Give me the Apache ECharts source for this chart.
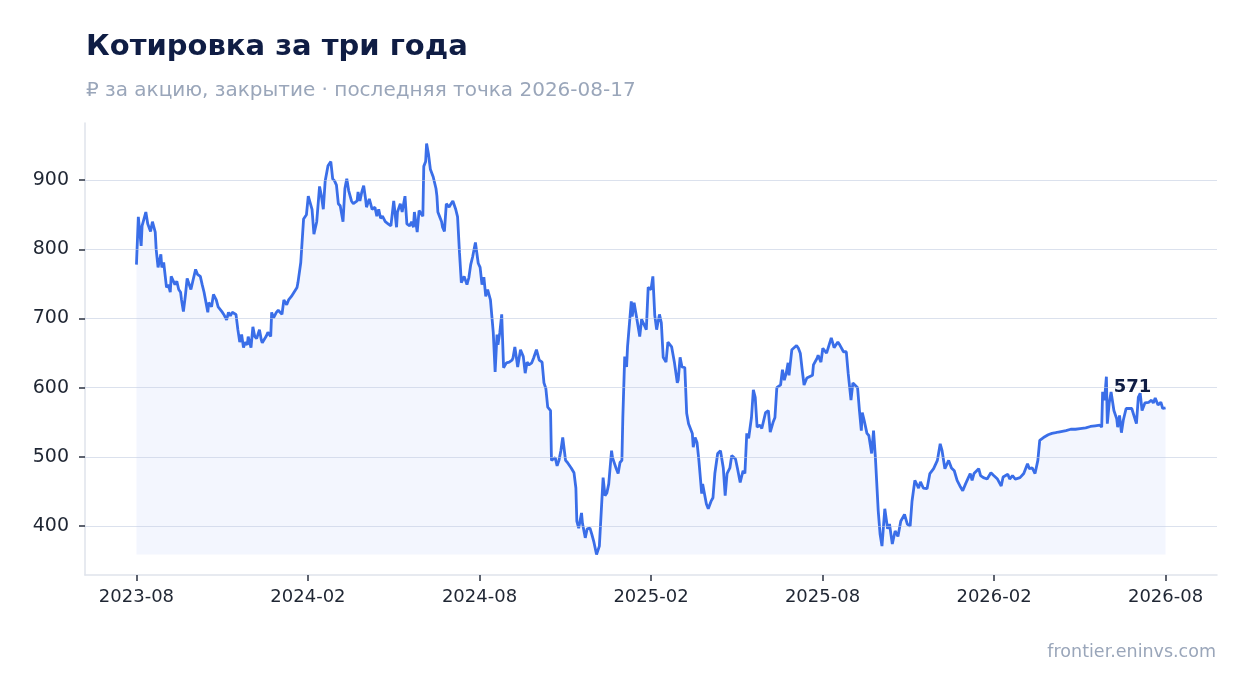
<!DOCTYPE html>
<html>
<head>
<meta charset="utf-8">
<script src="https://cdn.jsdelivr.net/npm/echarts@6/dist/echarts.min.js"></script>
<style>
  html, body { margin: 0; padding: 0; background: #fff; }
  #chart { width: 1247px; height: 693px; }
</style>
</head>
<body>
<div id="chart"></div>
<script>
// days since 2023-08-17 and the closing price on that day
var dayOffsets = [
  0, 2, 5, 6, 10, 12, 15, 17, 20, 21, 23, 26, 27, 29, 32, 34, 36, 37, 41, 43,
  45, 47, 48, 50, 52, 54, 58, 60, 63, 65, 68, 70, 72, 76, 77, 80, 82, 85, 87, 91,
  93, 96, 98, 100, 102, 106, 108, 110, 112, 114, 116, 118, 119, 122, 124, 126, 128, 131, 133, 134,
  138, 140, 143, 144, 146, 149, 151, 155, 157, 160, 162, 165, 167, 171, 172, 175, 176, 178, 181, 183,
  187, 189, 192, 193, 195, 197, 199, 201, 204, 207, 209, 211, 213, 215, 217, 220, 222, 224, 226, 229,
  231, 235, 236, 238, 240, 242, 244, 245, 248, 251, 254, 256, 258, 260, 262, 265, 268, 271, 273, 274,
  277, 278, 281, 283, 286, 288, 291, 293, 295, 296, 299, 301, 303, 305, 306, 308, 309, 311, 313, 316,
  319, 320, 321, 323, 325, 326, 328, 330, 333, 335, 337, 340, 342, 344, 346, 349, 352, 354, 356, 358,
  361, 364, 366, 368, 370, 372, 374, 377, 380, 382, 384, 385, 387, 389, 391, 394, 397, 400, 401, 403,
  405, 406, 409, 412, 414, 416, 418, 421, 423, 426, 429, 432, 434, 436, 438, 441, 442, 446, 448, 450,
  452, 454, 457, 459, 463, 466, 468, 469, 471, 474, 475, 478, 480, 483, 485, 487, 490, 493, 495, 497,
  499, 501, 503, 506, 507, 511, 513, 515, 517, 518, 520, 522, 523, 527, 528, 530, 533, 536, 538, 543,
  545, 548, 550, 552, 554, 557, 559, 561, 564, 566, 570, 573, 576, 577, 579, 581, 584, 586, 588, 592,
  593, 595, 597, 599, 602, 603, 607, 609, 612, 614, 616, 619, 622, 625, 627, 629, 632, 634, 638, 640,
  643, 646, 648, 650, 652, 655, 657, 659, 661, 664, 666, 670, 672, 673, 675, 678, 680, 682, 686, 688,
  690, 692, 694, 695, 698, 700, 703, 705, 707, 709, 711, 714, 716, 720, 721, 725, 726, 729, 731, 735,
  737, 740, 743, 747, 749, 753, 756, 758, 761, 763, 768, 770, 772, 773, 775, 778, 780, 783, 785, 787,
  790, 792, 794, 797, 800, 802, 805, 808, 811, 814, 818, 821, 824, 826, 829, 833, 835, 838, 842, 845,
  849, 853, 856, 858, 861, 865, 868, 871, 874, 877, 880, 883, 886, 888, 890, 892, 897, 899, 902, 906,
  910, 913, 917, 921, 923, 928, 930, 933, 936, 941, 945, 949, 951, 954, 957, 960, 962, 966, 968, 971,
  975, 979, 982, 986, 990, 995, 1000, 1005, 1011, 1016, 1021, 1026, 1028, 1029, 1031, 1033, 1034, 1036, 1038, 1041,
  1044, 1045, 1047, 1049, 1051, 1054, 1056, 1060, 1062, 1065, 1067, 1069, 1071, 1074, 1078, 1081, 1083, 1085, 1088, 1091,
  1093, 1096
];
var closePrices = [
  778, 847, 805, 834, 854, 837, 826, 840, 825, 800, 774, 793, 774, 781, 745, 749, 738, 761, 749, 754,
  742, 738, 727, 710, 732, 758, 742, 754, 771, 764, 761, 749, 738, 709, 723, 717, 735, 727, 717, 710,
  706, 698, 709, 704, 709, 706, 684, 666, 677, 658, 666, 662, 674, 658, 688, 674, 671, 684, 669, 665,
  674, 680, 674, 709, 701, 709, 712, 706, 727, 720, 727, 732, 733, 745, 752, 781, 783, 844, 850, 877,
  858, 822, 840, 841, 891, 877, 858, 899, 921, 927, 902, 899, 893, 866, 863, 840, 888, 902, 885, 870,
  866, 870, 883, 870, 883, 892, 873, 861, 873, 858, 861, 848, 858, 845, 848, 840, 837, 834, 834, 870,
  832, 854, 866, 854, 877, 837, 834, 840, 832, 854, 825, 856, 858, 848, 920, 927, 953, 938, 916, 905,
  888, 877, 854, 847, 840, 832, 826, 866, 861, 866, 870, 858, 847, 796, 752, 761, 749, 759, 778, 789,
  810, 780, 774, 749, 760, 732, 742, 727, 680, 623, 677, 662, 680, 706, 629, 636, 637, 640, 643, 659,
  640, 630, 655, 645, 621, 637, 633, 636, 643, 655, 640, 637, 607, 599, 572, 567, 495, 499, 487, 495,
  509, 528, 495, 492, 484, 477, 455, 407, 397, 419, 404, 383, 396, 397, 388, 378, 359, 371, 371, 470,
  444, 448, 461, 509, 499, 483, 476, 492, 495, 557, 645, 630, 659, 725, 703, 723, 699, 674, 699, 684,
  745, 742, 761, 705, 684, 706, 694, 644, 637, 666, 659, 636, 607, 611, 644, 630, 629, 563, 548, 534,
  514, 528, 521, 495, 447, 461, 432, 425, 436, 441, 476, 505, 509, 484, 444, 476, 484, 502, 497, 484,
  463, 480, 476, 534, 527, 557, 597, 586, 543, 546, 541, 564, 564, 567, 536, 550, 557, 600, 604, 626,
  611, 621, 636, 618, 655, 656, 661, 657, 650, 626, 604, 614, 612, 618, 633, 643, 647, 637, 657, 650,
  652, 672, 658, 666, 662, 652, 652, 621, 582, 607, 600, 567, 538, 564, 553, 534, 531, 505, 538, 499,
  422, 388, 371, 425, 396, 403, 374, 393, 385, 407, 417, 403, 400, 436, 466, 455, 464, 455, 454, 476,
  483, 495, 519, 509, 483, 495, 484, 480, 466, 458, 451, 461, 470, 476, 466, 476, 483, 473, 470, 468,
  477, 473, 468, 458, 471, 475, 468, 473, 468, 470, 476, 490, 483, 484, 476, 495, 524, 528, 530, 532,
  534, 535, 536, 537, 538, 540, 540, 541, 542, 544, 545, 546, 543, 594, 582, 616, 548, 578, 594, 567,
  555, 543, 560, 535, 553, 570, 572, 570, 572, 548, 586, 592, 567, 578, 579, 582, 578, 585, 575, 579,
  570, 571
];
var tickLabels = ['2023-08', '2024-02', '2024-08', '2025-02', '2025-08', '2026-02', '2026-08'];
var yTicks = [400, 500, 600, 700, 800, 900];

var totalDays = dayOffsets[dayOffsets.length - 1];
var step = totalDays / (tickLabels.length - 1);
var xTicks = tickLabels.map(function (l, i) { return i * step; });

var seriesData = dayOffsets.map(function (d, i) { return [d, closePrices[i]]; });
var lastPoint = seriesData[seriesData.length - 1];
var minPrice = Math.min.apply(null, closePrices);
var maxPrice = Math.max.apply(null, closePrices);
var pad = (maxPrice - minPrice) * 0.05;

var chart = echarts.init(document.getElementById('chart'));
chart.setOption({
    backgroundColor: '#ffffff',
    animation: false,
    textStyle: { fontFamily: 'DejaVu Sans' },
    title: {
        text: 'Котировка за три года',
        subtext: '₽ за акцию, закрытие · последняя точка 2026-08-17',
        left: 81,
        top: 28,
        itemGap: 19,
        textStyle: { fontFamily: 'DejaVu Sans', fontSize: 29, fontWeight: 'bold', color: '#0f1d44' },
        subtextStyle: { fontFamily: 'DejaVu Sans', fontSize: 20, color: '#9aa6ba' }
    },
    graphic: [{
        type: 'text',
        right: 31,
        top: 643,
        style: {
            text: 'frontier.eninvs.com',
            font: '17.5px "DejaVu Sans"',
            fill: '#9aa6ba'
        }
    }],
    grid: { left: 85, right: 30, top: 123, bottom: 118 },
    xAxis: {
        type: 'value',
        min: -totalDays * 0.05,
        max: totalDays * 1.05,
        axisLine: { show: true, onZero: false, lineStyle: { color: '#dfe3eb', width: 1.5 } },
        axisTick: { show: true, customValues: xTicks, length: 6, lineStyle: { color: '#2a3140', width: 1.5 } },
        axisLabel: {
            customValues: xTicks,
            fontSize: 18,
            color: '#1f2633',
            margin: 13,
            formatter: function (v) { return tickLabels[Math.round(v / step)]; }
        },
        splitLine: { show: false }
    },
    yAxis: {
        type: 'value',
        min: minPrice - pad,
        max: maxPrice + pad,
        axisLine: { show: true, onZero: false, lineStyle: { color: '#dfe3eb', width: 1.5 } },
        axisTick: { show: true, customValues: yTicks, length: 6, lineStyle: { color: '#2a3140', width: 1.5 } },
        axisLabel: { customValues: yTicks, fontSize: 19, color: '#1f2633', margin: 16 },
        splitLine: { show: false }
    },
    series: [{
        type: 'line',
        data: seriesData,
        symbol: 'none',
        lineStyle: { color: '#3a6ee8', width: 2.8 },
        areaStyle: { color: 'rgba(59,110,232,0.09)', origin: minPrice },
        z: 3,
        markLine: {
            silent: true,
            symbol: 'none',
            label: { show: false },
            lineStyle: { color: 'rgba(190,200,222,0.55)', type: 'solid', width: 1.2 },
            data: yTicks.map(function (t) { return { yAxis: t }; })
        },
        markPoint: {
            symbol: 'circle',
            symbolSize: 0,
            data: [{ coord: lastPoint }],
            label: {
                show: true,
                formatter: String(lastPoint[1]),
                offset: [-33, -20],
                fontSize: 18,
                fontWeight: 'bold',
                color: '#0f1d44'
            }
        }
    }]
});
</script>
</body>
</html>
